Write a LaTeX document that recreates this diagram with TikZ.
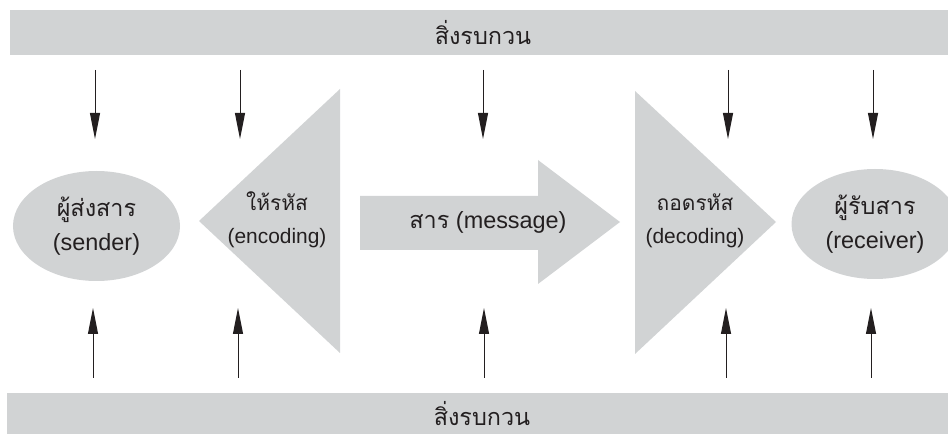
\documentclass[tikz,border=0pt]{standalone}
\usepackage{fontspec}
\setmainfont{Liberation Sans}
\newfontfamily\thaifont[Script=Thai]{Loma}
\usetikzlibrary{shapes.geometric}
\usetikzlibrary{arrows.meta}
\definecolor{shadegray}{HTML}{D1D3D4}
\definecolor{inkgray}{HTML}{231F20}
\tikzset{
  bar/.style= {fill=shadegray, minimum width=948bp, minimum height=45bp, inner sep=0},
  bartext/.style= {inner sep=0, font=\fontsize{23.5}{28}\selectfont\thaifont},
  party/.style= {ellipse, fill=shadegray, minimum width=167bp, minimum height=110bp, inner sep=0, align=center, font=\fontsize{23.5}{34}\selectfont},
  coder/.style= {align=center, font=\fontsize{21}{33}\selectfont},
  noise/.style= {-{Triangle[length=26bp,width=10bp]}, line width=1bp},
}

\begin{document}
\begin{tikzpicture}[x=1bp, y=-1bp, inkgray]
  \useasboundingbox (0,0) rectangle (948,434) ;
  \node [bar] (top) at (484,32.5) {} ;
  \node [bar, minimum width=966bp, minimum height=41bp] (bottom) at (490,413.5) {} ;
  \node [bartext] (noisetop) at (483,33) {สิ่งรบกวน} ;
  \node [bartext] (noisebottom) at (482,414) {สิ่งรบกวน} ;

  \fill [shadegray] (340,89) -- (340,353) -- (199,221) -- cycle ;
  \fill [shadegray] (360,196) -- (538,196) -- (538,160) -- (620,222)
    -- (538,284) -- (538,250) -- (360,250) -- cycle ;
  \fill [shadegray] (635,91) -- (635,354) -- (776,222) -- cycle ;

  \node [party] (sender) at (96.5,226) {{\thaifont ผู้ส่งสาร}\\(sender)} ;
  \node [coder] (encoding) at (277,220) {{\thaifont ให้รหัส}\\(encoding)} ;
  \node [font=\fontsize{23.5}{28}\selectfont] (message) at (488,222) {{\thaifont สาร} (message)} ;
  \node [coder] (decoding) at (695,221) {{\thaifont ถอดรหัส}\\(decoding)} ;
  \node [party] (receiver) at (875,224) {{\thaifont ผู้รับสาร}\\(receiver)} ;

  \foreach \x [count=\i] in {95,240,483,728,873} {
    \coordinate (a\i) at (\x,70) ;
    \coordinate (b\i) at (\x,139) ;
    \draw [noise] (a\i) -- (b\i) ;
  }
  \foreach \x [count=\i] in {93,238,484,726,871} {
    \coordinate (c\i) at (\x,378) ;
    \coordinate (d\i) at (\x,308) ;
    \draw [noise] (c\i) -- (d\i) ;
  }
\end{tikzpicture}
\end{document}
